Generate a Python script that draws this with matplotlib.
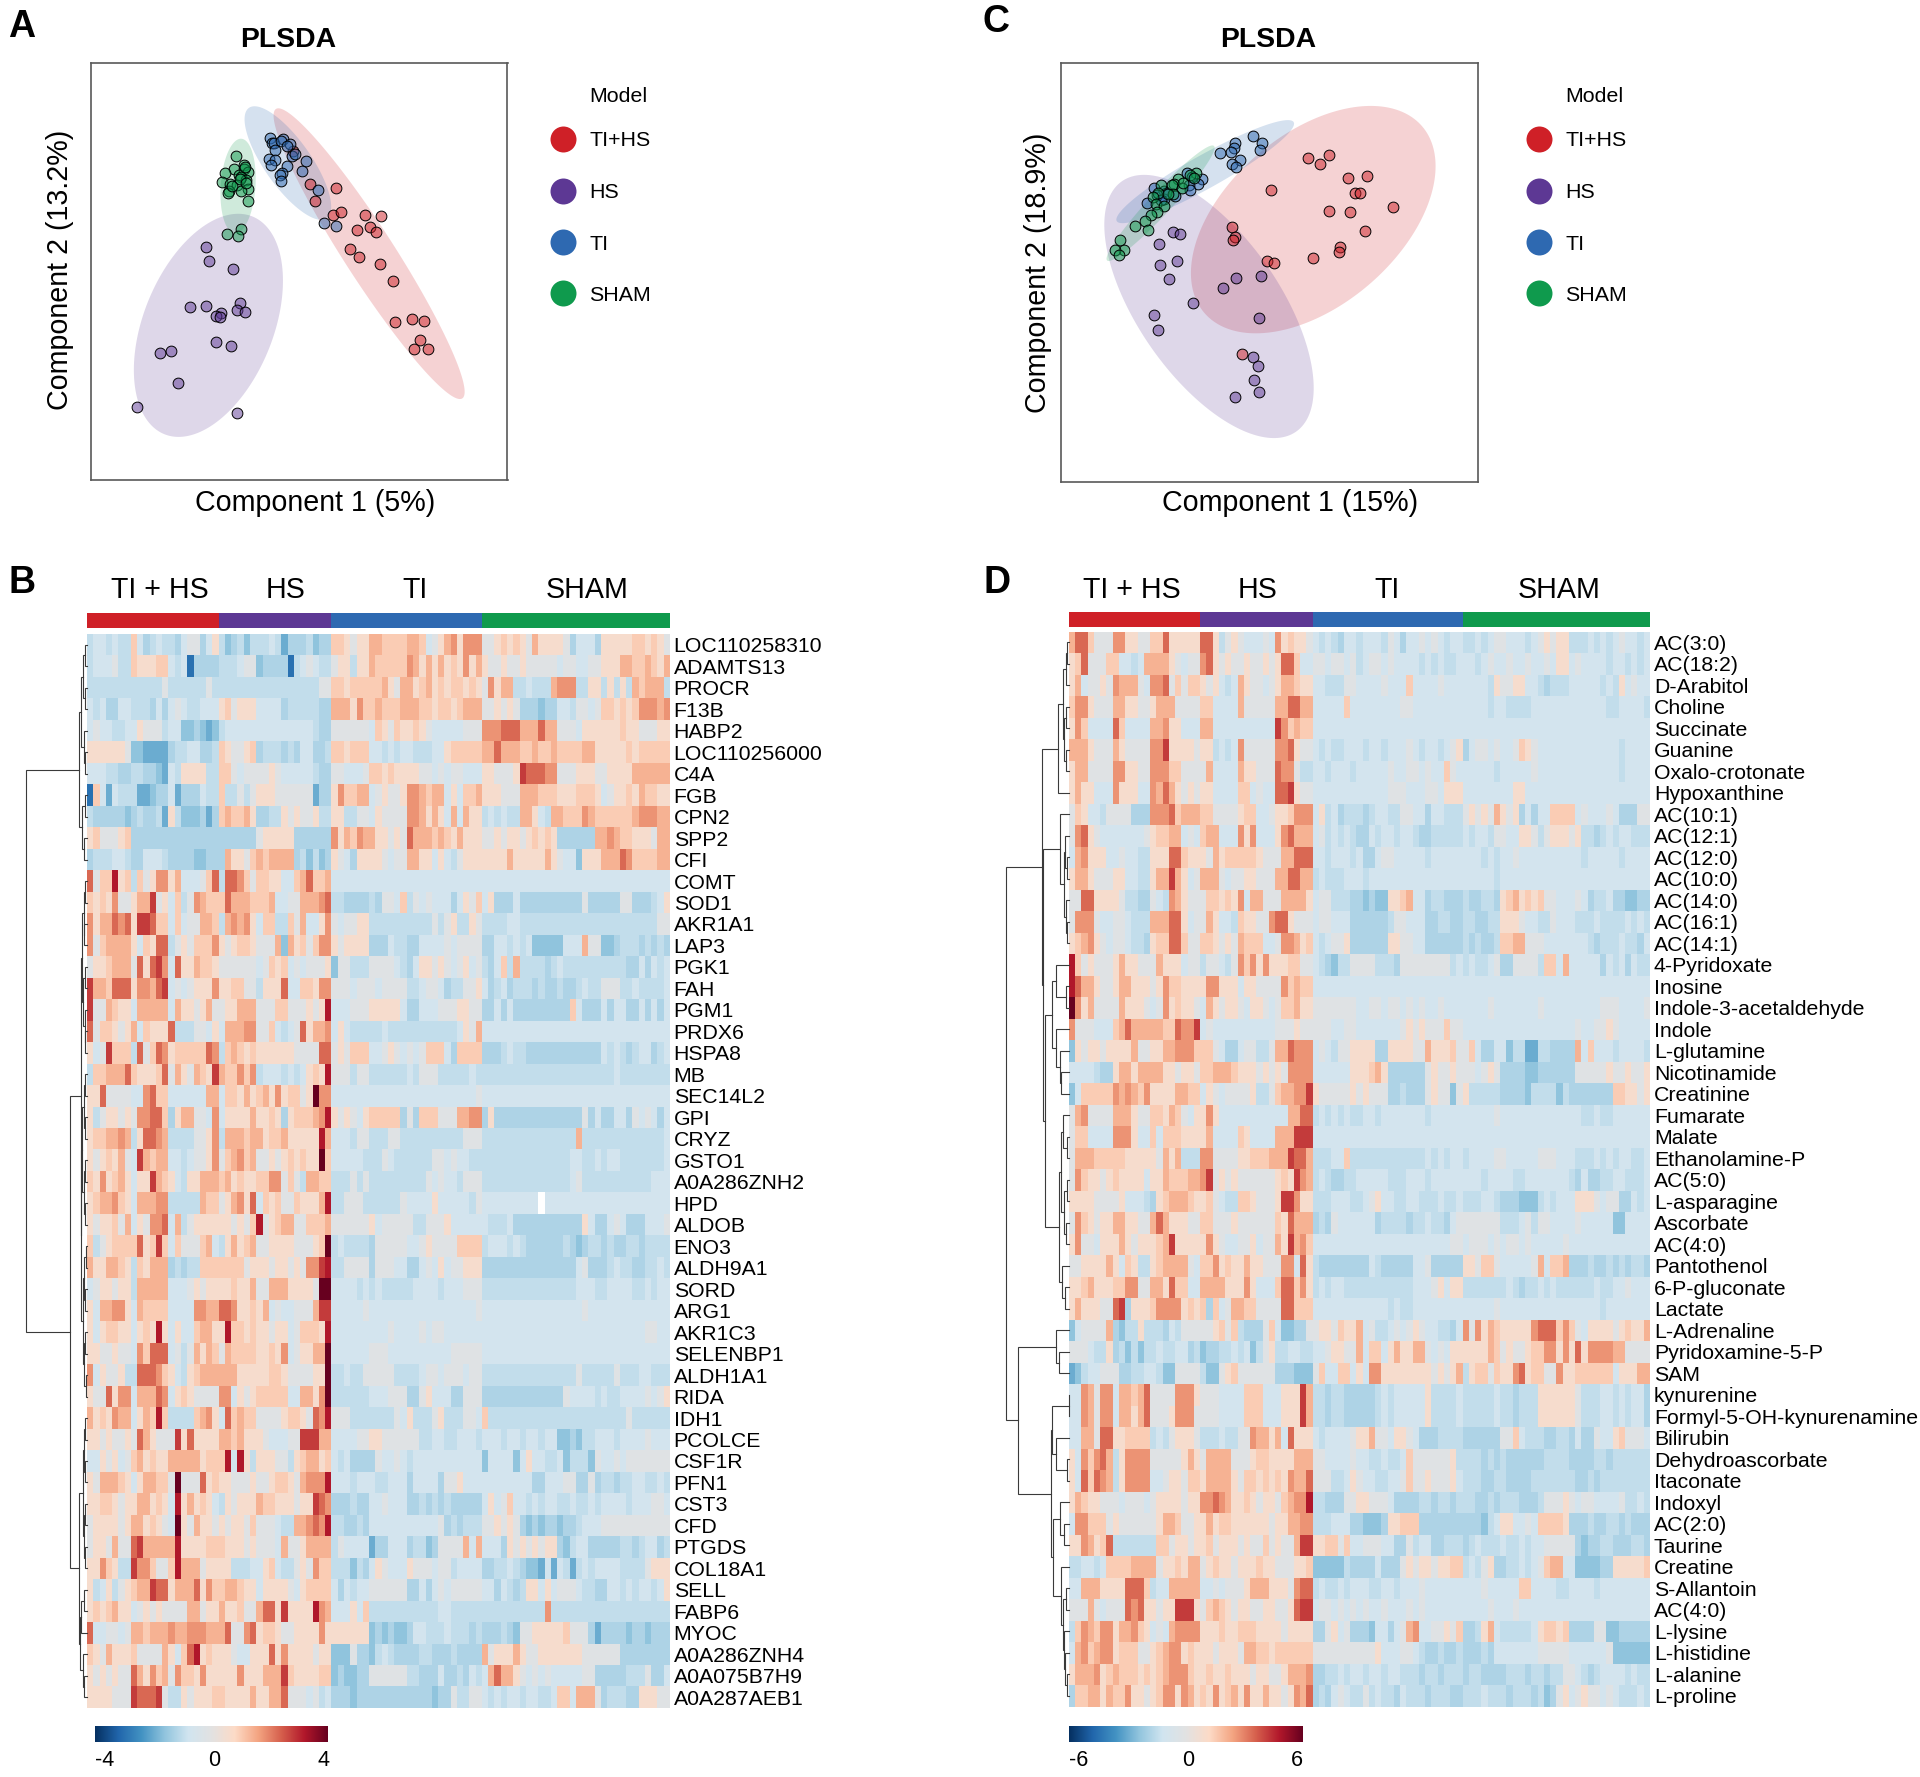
import matplotlib

matplotlib.use("Agg")
import matplotlib.pyplot as plt
import numpy as np
from matplotlib.colors import LinearSegmentedColormap, ListedColormap, to_rgba

W, H = 1920, 1777
plt.rcParams["font.family"] = ["Liberation Sans", "DejaVu Sans"]

GROUP_NAMES = ["TI+HS", "HS", "TI", "SHAM"]
GROUP_TITLES = ["TI + HS", "HS", "TI", "SHAM"]
GROUP_COLORS = ["#cf2027", "#5d3894", "#2e69b1", "#0f9a4d"]
GROUP_SIZES = [21, 18, 24, 30]

# PLS-DA scores (arbitrary score units, no ticks)
A_XLIM, A_YLIM = (204, 1137), (1418, 186)
C_XLIM, C_YLIM = (181, 1115), (1426, 186)

a_tihs = [(656, 445), (695, 543), (752, 556), (706, 593), (746, 637), (763, 628), (818, 636), (853, 638), (800, 681), (828, 670), (843, 685), (784, 736), (804, 761), (852, 782), (881, 830), (886, 951), (922, 942), (949, 950), (942, 1006), (927, 1032), (958, 1032)]
a_hs = [(461, 730), (469, 772), (521, 794), (425, 909), (461, 906), (538, 895), (531, 916), (550, 924), (495, 926), (483, 933), (492, 936), (485, 1010), (517, 1022), (383, 1037), (358, 1044), (398, 1133), (306, 1205), (532, 1221)]
a_ti = [(606, 407), (609, 422), (615, 422), (634, 411), (630, 416), (649, 427), (642, 432), (617, 444), (654, 462), (661, 454), (686, 476), (603, 470), (617, 474), (607, 487), (642, 491), (676, 506), (632, 512), (628, 518), (630, 534), (713, 563), (726, 658), (752, 668)]
a_sham = [(528, 461), (547, 489), (525, 499), (546, 500), (505, 510), (556, 507), (535, 516), (540, 522), (497, 537), (551, 533), (516, 545), (530, 548), (555, 558), (513, 565), (511, 570), (541, 566), (556, 594), (539, 677), (508, 691), (534, 698), (548, 495), (520, 550), (538, 528), (552, 540)]

c_tihs = [(735, 466), (762, 484), (781, 457), (824, 527), (866, 521), (652, 561), (840, 571), (850, 570), (924, 613), (781, 625), (828, 628), (862, 683), (565, 670), (571, 700), (567, 710), (807, 731), (804, 745), (746, 763), (642, 771), (658, 779), (586, 1047)]
c_hs = [(432, 685), (448, 693), (400, 721), (403, 784), (440, 772), (423, 824), (573, 822), (628, 816), (543, 852), (477, 895), (389, 932), (624, 941), (399, 976), (612, 1055), (622, 1083), (614, 1125), (625, 1161), (571, 1174)]
c_ti = [(611, 403), (631, 423), (571, 424), (569, 438), (561, 449), (537, 451), (627, 442), (581, 473), (563, 484), (574, 493), (497, 530), (463, 512), (487, 543), (475, 524), (468, 547), (470, 562), (389, 555), (437, 580), (412, 565), (411, 588), (416, 570), (397, 578), (374, 601), (405, 590)]
c_sham = [(484, 511), (470, 516), (478, 527), (442, 528), (435, 545), (430, 546), (451, 555), (406, 547), (432, 575), (398, 572), (386, 582), (394, 603), (411, 608), (395, 627), (383, 636), (369, 653), (347, 669), (375, 681), (313, 710), (322, 738), (303, 740), (310, 755), (420, 575), (455, 540)]

# confidence ellipses: centre x, half width, centre y, half height, correlation
a_ellipses = [(827, 214, 750, 430, 0.95), (467, 167, 962, 330, -0.40), (645, 97, 482, 168, 0.77), (533.5, 39.5, 550, 140, -0.16)]
c_ellipses = [(746, 274, 649.5, 336.5, -0.47), (512.5, 234.5, 906.5, 389.5, 0.62), (504, 199, 507.5, 152.5, -0.93), (404, 121, 601, 171, -0.96)]

labels_b = ["LOC110258310", "ADAMTS13", "PROCR", "F13B", "HABP2", "LOC110256000", "C4A", "FGB", "CPN2", "SPP2", "CFI", "COMT", "SOD1", "AKR1A1", "LAP3", "PGK1", "FAH", "PGM1", "PRDX6", "HSPA8", "MB", "SEC14L2", "GPI", "CRYZ", "GSTO1", "A0A286ZNH2", "HPD", "ALDOB", "ENO3", "ALDH9A1", "SORD", "ARG1", "AKR1C3", "SELENBP1", "ALDH1A1", "RIDA", "IDH1", "PCOLCE", "CSF1R", "PFN1", "CST3", "CFD", "PTGDS", "COL18A1", "SELL", "FABP6", "MYOC", "A0A286ZNH4", "A0A075B7H9", "A0A287AEB1"]
labels_d = ["AC(3:0)", "AC(18:2)", "D-Arabitol", "Choline", "Succinate", "Guanine", "Oxalo-crotonate", "Hypoxanthine", "AC(10:1)", "AC(12:1)", "AC(12:0)", "AC(10:0)", "AC(14:0)", "AC(16:1)", "AC(14:1)", "4-Pyridoxate", "Inosine", "Indole-3-acetaldehyde", "Indole", "L-glutamine", "Nicotinamide", "Creatinine", "Fumarate", "Malate", "Ethanolamine-P", "AC(5:0)", "L-asparagine", "Ascorbate", "AC(4:0)", "Pantothenol", "6-P-gluconate", "Lactate", "L-Adrenaline", "Pyridoxamine-5-P", "SAM", "kynurenine", "Formyl-5-OH-kynurenamine", "Bilirubin", "Dehydroascorbate", "Itaconate", "Indoxyl", "AC(2:0)", "Taurine", "Creatine", "S-Allantoin", "AC(4:0)", "L-lysine", "L-histidine", "L-alanine", "L-proline"]

# z-scores estimated cell by cell, one character per cell, groups split by |
CODES = {"z": -3.0, "a": -2.0, "b": -1.6, "c": -1.25, "d": -1.0, "e": -0.7, "0": -0.15, "1": 0.6, "2": 1.0, "3": 1.4, "4": 1.8, "5": 2.3, "6": 2.8, "7": 3.2, "8": 4.0, "x": np.nan}

heat_b = [
    "deededd2ecdeddce00ce1|dbcdbdddedacccdbcc|221011332222332e01341444|001212103111 10ceeec1111122 1210",
    "deee0dd211122edezcccc|ddde00bcccczde0eddd|01 1d11322222 4313 1 3 1 2 1 4 1 3|1001001000 00e00ee00111332232 13",
    "dddddddddddd0dddddd0d|dddddddddddddddd00|221222223103312312122121|0413 3dded dd3444dd11d1d1d32333d",
    "edecceedddcece0eddeee|120111eeeecdddddcc|333142232223332212212333|0010 10cccbcceed00e02212124 44 34",
    "e0eeddee1000deebbcbab|deeeeeeeeeeeeeedcc|000000e2102112 10eeeee000|4445553335 33000e1111112110 0011",
    "1111110bbaaaacddeeccd|210012cdddcdceeccd|221222eededeedddee122222|335333223223222233 1111 12122222",
    "eeeddccddccbaed1111dd|220e00001 0eeeeedcc|00eee0221211110 0e0e00ee|110001655544000111001111333333",
    "z2eaedddaabcceaccc edd|2dd0d01110000 00acc|142233e010014432 33e1e223|111000333222111222 1e0112132211",
    "dcccccbcdccda1dbbbcac|232231ccdd101001dd|11dd00e100004431 31e3e311|ded edd331ed332224322222234 4433",
    "120001 2ccccccccccccccc|cccccc011111cccccc|4132433 11010533323 2 1 3 1|0010110121 21cccccc3343221 1103",
    "cdddeedccee edcccc bbcc|c31102323333cdbdbc|10ec11110e003311e1ed0111|111131111131 0eeb111333542222 33",
    "502271 2d20144 13eee025|d55420 22 11ee2352 23|eeeeeeeeeeeeeeeeeeeeeeee|eeeeeeeeeeeeeeeeeeeeeeeeeeeeee",
    "212140013 3601e2d04322|253332223ee003334 5|ddcccc dc00e2d0e0eeece102|e1ccce cccccccccc 0ccccc00cccde1",
    "413354 5166522e2e00332|d34341e22dd203ee14|0e001 1dddddddddd0d01dd1 00 0|ddddeedddddddddddddddddddddd00",
    "402333 31e2155 d010222 4|101221000 3b312 0244|101111ccce ddcceeee0e0000|cceedede bbbbbeee300bbcdddcdcdcd",
    "011233 305 1564 e511322 15|000000e0212e0e0001|b00ddd0000edce11010 e01e0e|dce2d3dddd cdeddddddddddccece dec",
    "633255 5144 3 56e0e0111 4|11 220 0d1115ee22144|000e000e0000dde00ecdd001|ecdecdddcdccdccdedd000dde dddde",
    "60032 11e33333 e31101 305|0113 33000 22 000 1017|eee000 11111ecceee00011000|ccececcccccccc2 eccce ceecc ecece c",
    "502 2101 3e2111 5ddd00 e14|e333 440 02ed e051 334|e1edddddeddddddddddde103|eeeeeeeeeeeeeeeeeeeeeeeeeeeeee",
    "1e062 22d5025412222254|d23212111111000055|010222ee010e0e0222 ec2222|cccdedd cccccccccccc eded cdeecde",
    "d2233 352 11125 0310 3216|3224 24deeedede1217 6|000d00dddddde d000ddddde d|dddddddddddddddddddddeddddddddd",
    "11 5 0000ee45 22eeeeee33|e22131 2314122 01844|eeeeeeeeeeeeeeeeeeeeeee0|eeeeeeeeeeeeeeeeeeeeeeeeeeeeee",
    "1d0110 10 44 552c1330 0e4|e11113112 1c1222347|10 10e122222c0c2220003 34|c1cccccccccccccc0cecceec0e0ece",
    "12233 43d155 43ddd d0014|d333233122 3111117 3|eeed00ddd00ddddddddd d 000|ddddddddddddddd3ddddddddddddde",
    "1012130e6323 3eede00 14|02342300101212118 2|eeeeeddd0edddddd00e0ee ddd|ddddddddddddddeedde deeddddddde",
    "2141231 e116 321ed11333|2312 1122 440 2 0 d33 2 2 7|ddd0d0ddddddddd0e0ee d000|dddddddddddddd e0ddddddddddd e",
    "1233421 e33344ddddd322|0134 15e21200211137|dd000dddddd0eeee1eeeeed0|eeeeeeeeexeeeeeeeeeeeeeeeeeeee",
    "101120 3e1044 5e3d01111|110102 7 0 1 2 3 3 0 0 2 2 2 3 6|0000001e00000dd00 01eeeee0|eddde ccccccccccc1ecce0eccceee0e",
    "2d0122 225 126 2e2000 23e|d13123001111000128|dedddd c00000ee01000022 22|deeeded cccccc dcbcddcdcc ddcd",
    "3113 321d21333cdcdd222|222201 11 011 01044 67|dd0000c000ee cce0e1e00111|ccccccccccccccc e0ccc deddcc ddedd",
    "e011 011d33333eee01 011|112113003 3311110 88|eeeed ede d d d d de eeede ee00|ddddddddddddddd eeedd eeee dd ede",
    "1e3344 1e322 22eeee 4433|5541 1 213 e0ee000 366|eeeee0eeeeeeeeeeeeeeeee0|eeeeeeeeeeeeeeee0eeeeeeeeeeeee",
    "1e12 21 1e121 71e1ee2331|172 212110 1 1 e 0 2 2 2 1 7|eeeeeeeee0eeee0e00eeeeee|eeeeeeeeeeeeeeeeeeeeeeeeee00ee",
    "110010 0e4255 5e0d031 32|032222 11 21 4e0 11338|eeeeee000eeeeeeeee e0000 0|eeeeeeeeeeeeeeeeeeeeeeeeeeeeee",
    "4e1001dd555 421ed123333|333111112 2 1 0 0 0 0 1 1 8|dde dd00000dddde00e000e00|ddddddddddddddd0ddddd0dddeeddd",
    "1005 144e33354e1210000|44e10122222ee331 48|dddddde ee000cc01eeecc0000|ccccccccccccc0eeeededdeeee0e01e1",
    "31214 33e13272dddd2341|e523 22 0000122105 47|000ddddddd0e1ddd01ddd00e1|2dddddddddddddddddddddd0dddddd",
    "1101001 05 3100 061511 11|33231110eee0 0666 33|eeee001100 0000dde edd ee ed|eeedeedeedee bbcbddeeed eeee0eee",
    "ee1 01e 0 23121 1 333331 22|2 7 e 7 1 d 1 1 1 0 0 d 1 2 3 3 1 2|edecccc0ee0ede eeeeeeeeeec|beeeeb e1eedd e bddd b0ee0e0000000",
    "103332 1e1332 2 08 000512|110001001 221 034447|eeedee edde eece eeec001eee|eeeeeeeecceee00cc0cddcddeedded",
    "11221 0113 31 21 e7 13121e|d10111 3221 1 1 0 1 1 6 5 4|cccdcc ee0eeecc dcdcdccccc|e1e02eededeeddeddedeeeedeee00ee",
    "011110 133 12 1 0e81 031 10|1011 020 00edd 33 45 47|ddccdce eeeeeeeeee0cdcddd d|001 010cbcbccbcc deee0000000000",
    "0110 3005 6333337 1 1 1 1 22|2111010 00e300133 33|d0eeeeacceeecddbc00003e3|eeec1010 1011cbdeecccccddcdeecd",
    "114 21dd64 4 200 2 7 3 3 3 0 1 1|11dddee12edd0 1 0 4 2 2|dddbdce10eee100 0e00deeee|ccddedcbbaeaedadedee eedddd0111",
    "1de1d012 3365 513 3 3 5 1 4 2|2332 11e1 1 1 1 0 e 1 2 2 2 2|eced ee000000cce ce0e00000|eeced c d1 1e1e000edd cceeded ee d e 1",
    "12 12 3 11e 0 1 0 1 0 0 0 0 3 3 0 1 1|3112 0 0 3 5 5 1 6 1 1 1 1 7 4 3|eee1e2dddddddddddeed dddd|dddddddddd4ddddddddddddddddddd",
    "5ee00e033 2333 4 3 3 4 4 4 3 3|35004 51 2 2 1 0 0 1 1 1 1 4 1|111111bcbcbbceeddded ddcd|cccdcb00 11 1 1 1 2 0 0 0 cac c c c b c c b c c c",
    "2103111 200003 1e2 571 21|110ee11151 4 1 1 1 1 0 1 1|bbb0ccbdedcccc ddcccdcccc|30111310 0111111 1000000cccccccc",
    "1010100 5 3142 3 0 4 2 2 1 4 1 1|111 41113336 2 1 1 1 1 2 2|bcbbcc000000ddccce ccdced|e35 33 10e0e0eeeee00ccccc ddd0cce",
    "1111000 65556 0dd1011 1 2|2111 1 3 1 1 3 3 5 0 0 0 e 0 d e|cccbcccccccccccc bcc0dd00|ededeedeedde22e3330cddd cc1110 00",
]

heat_d = [
    "3552000441100 22511111|551d010eee0e412110|ededceedeeed0ec ee0e0edeee|ddede00eeede010 11ddde ded e0eede",
    "1250 0022eede3333 10e0|45101001001015 52ee|00e00e0de00e0eeeedededd e|eede0ee0ee0ee0e1 1e0eeeedeedede",
    "13e001043 330e4450202|101ede3100e0133211|eeddd00eeee0eee2eeee0eee|eeeed1001 1eedcddd eeeeeded1e0ee",
    "244100033 11001333000 0|22eeee300000335533|eeeee2eeeeeeee00eeeeeeee|eeeedeedddd eeeeeeeeeeeeddeeeede",
    "142eeee52eeee334 11eee|33eeeeeeeeee642 322|eeeeeeeeeeeeeeeeeeeeeeee|eeeeeeeeeeeeeeeeeeeeeeeeeeeeee",
    "33310003100004461 1110|11dede400000445100|ededdeeedeedeee0edeed e010|ce00e0ee02 10eeeeeeeeeeeeedeee",
    "13300004 41100444220 00|03eeee311000544 0dd|eedeeedeeeee0ee00e0ee20e|eeeeedeeeee0eeeeeeeeeeeeedeeee",
    "13 11eee411 1ee435 31010|11eeee22e0ee5 561 00|eeeeeeeeeeee000eee00e111|eeeeeeee11eeeeeeeeeeeeeeeeeeee",
    "021eed0000ccc44452333|220000122ee011 2444|e1dec ddd cdeedd00eecee ddd|01010 31 01cecee22 22e0eee0ecc c00",
    "0451 0eeeeeee01 2233e0e|233eee4 14eee1453 33|e0ded edcc ed eedeedccddd|edeed00ee1 10d01 110 1ddcdedeedd",
    "e3411 1ee0eedd1115 52 11|103122 22210003 3555|eedeeedecce00eeeeedeeeee|eeededee0eeeeeeeeeedeeeee deee",
    "13 3100011eedd13363 1e0|33 30e0011000335533|dedd deeedeeeeeeeeeeeeeee|eeeeedeeeeeeeeeeeeeeeeeeeeeeee",
    "00551 11 10ddcc 0ed4310 0|022121 4e33000 33331|e00dddccbcbb1123eecddccc|dccddc 1231212 00eee0 ecddeccbbcc",
    "044 40ee00eddd3335 51e0|031eed2110 04 551 00|e00eeeccccccd00eeeccddcc|ddccdd111 0eedd0eeedddeddddededcde",
    "12341 0e00edd c122552 00|2210 10 322 2ee0443 12|ede001cccccc1100eeccc ccc|dcdccd2233000eeeeeeedcdddeddce",
    "7201 00013 11000 3111e0|d00ed04 24141 1122 0|edcbdd0000dddc00000000de|dedde0cc0000d22e3eeeeecedeced",
    "75331 00133 1 110 1422111|144 111e110000423 22|eeeeeeeeeeeeeeeeeeeeeeee|eeeeeeeeeeeeeeeeeeeeeeeeeeeeee",
    "8413 00003 1110e0412110|e310 11 0e110e0 2231 1|0000000ee00e00e0e0ee0eee|eeee0eeeeeee0eeeeeeeee0 00eeee0",
    "4000eee 2353 33332 25 446|e0eeeeeeeeee000100|000ee00eeeeeee0101 000 200|eeeeeeeeeeeeeeeeee0ee001 0eeeee",
    "b1011011 1130011334 442|220ecce00dd033 5444|e0ed00111 1cc11110 03111 20|02ecceebddaaddcccc3e2eeedeeeed e",
    "eeeedcc13 3133331 10110|223332 11101 01 0 4444|eeeeee1112 31cccccc010010|00e010ccccbbcccccc000001001 001",
    "be22222 4343241111 3322|e10e0 00 01dd023 3446|10000010 1000ccdccc010 0b0|1dddddccccbddddbdccccccc221101",
    "034 00003 331 00 221320e 1|141eeeeeeeeeee3 355555|deded edd eedeeeeeeedeeeee|eeeee0eeeeeeeeeeeeedd eddeeeeee",
    "0 22eeee444 1ee2e22 2 111|13eeee21eeee333666|eeeeeeeeeeeeeeeeeeeeeeee|eeeeeeeeeeeeeeeeeeeeeeeeeeeeee",
    "033 32222 2111 1103 13ddd|44 0000 1122 2 33 36 553|ddde e2ddddddddddddededeee|deeee00eeeee000eeedddededeedded",
    "0421101 2111 1e11 32223 3|46010100000012 1643|dedccddeeeeedddeeedeeeee|eeedeeeeddeeeeeeedceccddeeddde",
    "1111000 01eeedc1233 321|1 20edd2210 001 66 41 1|dddeeedde01eeddeedddeddedd|dddeedcccbbbdedeee1110e00ccede",
    "0421 01 1 33110 035 311 100|220001000000215333|cdc0eeeeeecddddcdde ddce0|000000ddde0d00eeee0eeeeebbeeee",
    "140 0e11 1310 1 1 1 23 61 1 1 1|14 10ee001e00 31 6342|eeeeeeeeeeeeeeeeeeeeee00|e000e0e00e0eeeee0eeeeeeeeeeeee",
    "001111 3 1 e 2 1 d d 1 2 3 3 3 3 0 e|224121 1311 000 44e51|dccccccccedccccc ee0ccccc|1102 20eeeee0 3e2 23cccdccdcdcddc",
    "11231 11 2244 003 3 1 5 2 2 e e|333311 1 4 1 e e e 2 5 5 2 4 1|dedeeddddd ddddddeee01e1|ddddddde dcdd ededdddddedd ee0eee",
    "1311 100 56c11124444 121|2c2e0332 20000 55222|eeeeeeeeeeeededdeeeeeeee|eeeee0eeeeeeeeeeeeeeeedeeeeeee",
    "be000 03cbdd1dddce d000|0012 02dccc02ebbcc0|011021 13e0dde0e010eedd ce|40413 21 1111 4555 24 20e1 1110 1 2 1 1 3",
    "000edd1cdbdbdde ddeecd|bccdde de bd01ddeedd|ee011 003e22e1311330e0e11|1111 32010012 24414 1 5 1 4 4 4 4 3 3 0 0 0 0 1 1",
    "abdee00 0ccddeedbb00000|dbb012000000cccbbb|02ee22e1e44 1111111101 013|d12202 11 4 5 1 2 2 0 0 4 1 1 2 2 2 2 2 2 e 1 1 1 3 3",
    "ee4304 4e3323500 004441|000eeee222eee1 1163|ddcddccccc dedeeeee1dddde|dddddedd cddd111111 0ddde ededeec",
    "ee4304 4e33135000 144 40|000eeee222eee1 1163|ddcddccc ccdedeeeee1dddde|dddddedd cddd111111 0ddde edede ec",
    "ee3305 511222 2de d0111 0|dddedd0043 3 1 3 e 5 1 1 1|edeeee0113 00e110ecccdddd|cccccc002eddd ccddc ecc0ee120 00e",
    "1e42453d144 4400000 131|03333000122111 1333|00eeee0ee dd edde20000001d|dddcdcdccccccdddd cccc ddc dddddd",
    "1e525 43d1444 4ee01 10 22|13333 102 212 121 4335|000dde10eeddee02001000 1e|dddccddccccdddddddccdcdddddddd",
    "1321 1000e000e0111 101|445 4311 2 1 0 1 1 0 2 3 4 4 7|ddccc0011 000ecccc ddcddcd|ddccdcdddccc d000 10e00eeee0dde d",
    "e44 222 0100000 013 32001|131221 111110113 344|dddeeeccbbbc112 22ccccccc|cccbde11ee0e2222 1cccdccddcdccc",
    "1143 125ddddddd 22011 010|1201 1101 002 01 0036 6|11220 2ee000eecc0deecc ddd|cdedddeddede e0000 0cbccddccc ddc",
    "ddeede22 22333 3 0 1 1 2 1 3 3|012110111211000112|bbbbbdccccecc c010110 1122|ded01ccddede023 3eebbbbcc11111 2",
    "ee33311 115552 dee33 33 3|ee0e000133 31 11045 5|dedded eeedd eed eee0eeeeee|eee0eeeee22eeeeddeeeedeeeeeeee",
    "00030e00 05451 1 01 16661|023210110011 001 566|e00e0e0e0ee0eee0e0eeeeee|eeee0eee0eeeeeeeeeeeeeeeeeeeee",
    "d2432 44133 421e0e34 444|111211 222 111 1 0 1 1 1 1|cc01e0cccbeec e0 34ee 0 01 02|ccd13eddddde1221 2cccc00bbccccc",
    "e3423 4 41 22 2 00 1 2 3 4 4 1 2 1|110111033221222222|00000000001eee00edccdccd|cccdceeeeeee 00000eeeeee0bbbbbb",
    "133341 232 22121 23444 21|121 121110110 0133 34|ccddedeedeedeeddd cddcddd|cddccccdddcddcdd00edcdeeeededd",
    "c22331 322411 01244 1431|214123141131 1014 35|cdce0edd0dedd ced ddcdddc|dddeddd cdddcdbc01e01 00e0eddded",
]


def decode(rows, scale=1.0):
    out = []
    for row in rows:
        cells = []
        for part, size in zip(row.split("|"), GROUP_SIZES):
            part = part.replace(" ", "")
            part = part.ljust(size, part[-1])[:size]
            cells.extend(CODES[ch] for ch in part)
        out.append(cells)
    return np.array(out) * scale


# dendrograms: (height in px, child, child), a bare int is a heatmap row
m1 = (5, (3, (2, 11, 12), (2.5, 13, 14)), (3.5, (2, 15, 16), (2, 17, (1.5, 18, 19))))
m2 = (4.5, (3, (1.8, 20, 21), (2.2, 22, 23)), (3, (1.6, 24, 25), (2, 26, 27)))
m3 = (4, (2.5, (1.2, 28, 29), (1.5, 30, 31)), (2.5, (1.5, 32, 33), (1.2, 34, 35)))
l1 = (4, (3, (1.5, 36, 37), (1.5, 38, 39)), (3, (1.5, 40, 41), (2, 42, 43)))
l2 = (6, (3, 44, 45), 46)
l3 = (4, 47, (2.5, 48, 49))
b_top = (7.7, (6, (3.5, (1.5, 0, 1), (2, 2, 3)), (3, 4, (2, 5, 6))), (5, (2, 7, 8), (3, 9, 10)))
tree_b = (61, b_top, (17, (6, m1, (5.5, m2, m3)), (8, l1, (7, l2, l3))))

d_a = (11, (6, (3, (2, 0, 1), 2), (5, (3, 3, 4), (3, 5, 6))), 7)
d_b = (9, 8, (5, (4, 9, (2, 10, 11)), (3.5, 12, (2, 13, 14))))
d_mid = (24, (17, (13, 15, (3, 16, 17)), (13, 18, (9, 19, (8, 20, 21)))), (10, (8, (6, 22, (2, 23, 24)), (5, (2, 25, 26), (3, 27, 28))), (7, 29, (4, 30, 31))))
d_low = (18, (17, (0.5, 35, 36), (13, 37, (2, 38, 39))), (16, (9, 40, (5, 41, 42)), (8, 43, (6, (3, 44, 45), (5, 46, (4, 47, (2, 48, 49)))))))
tree_d = (63, (27.7, d_a, (26, d_b, d_mid)), (51, (13, 32, (10, 33, 34)), d_low))

cmap = LinearSegmentedColormap.from_list(
    "rdbu_grey",
    ["#053061", "#2166ac", "#4393c3", "#92c5de", "#d1e5f0", "#e2e2e2", "#fddbc7", "#f4a582", "#d6604d", "#b2182b", "#67001f"],
    N=256,
)
cmap.set_bad("white")

fig = plt.figure(figsize=(W / 100, H / 100), dpi=100, facecolor="white")


def px_axes(left, top, right, bottom):
    return fig.add_axes([left / W, 1 - bottom / H, (right - left) / W, (bottom - top) / H])


def label(x, y, text, **kw):
    # text sits ~2px high with va=center
    kw.setdefault("va", "center")
    page.text(x, y + 2, text, **kw)


def scores_panel(box, xlim, ylim, series, ellipses):
    ax = px_axes(*box)
    ax.set(xlim=xlim, ylim=ylim, xticks=[], yticks=[])
    for side in ax.spines.values():
        side.set_color("#595959")
        side.set_linewidth(1.2)
    t = np.linspace(0, 2 * np.pi, 200)
    for (cx, dx, cy, dy, r), color in zip(ellipses, GROUP_COLORS):
        ax.fill(cx + dx * np.cos(t), cy + dy * np.cos(t + np.arccos(r)), color=color, alpha=0.2, lw=0)
    for pts, color in zip(series, GROUP_COLORS):
        xy = np.array(pts)
        ax.scatter(xy[:, 0], xy[:, 1], s=60, facecolor=to_rgba(color, 0.5), edgecolor="black", linewidth=0.7, zorder=3)


def heatmap_panel(box, bar_top, bar_bottom, data, limit, labels):
    ax = px_axes(*box)
    ax.imshow(data, cmap=cmap, vmin=-limit, vmax=limit, aspect="auto", interpolation="nearest")
    ax.axis("off")
    bar = px_axes(box[0], bar_top, box[2], bar_bottom)
    bar.imshow(np.repeat(np.arange(4), GROUP_SIZES)[None, :], cmap=ListedColormap(GROUP_COLORS), aspect="auto", interpolation="nearest")
    bar.axis("off")
    row_h = (box[3] - box[1]) / len(labels)
    for i, name in enumerate(labels):
        label(box[2] + 4, box[1] + (i + 0.5) * row_h, name, fontsize=15.3, ha="left")


def draw_tree(node, left, top, row_h):
    if isinstance(node, int):
        return left, top + (node + 0.5) * row_h
    x1, y1 = draw_tree(node[1], left, top, row_h)
    x2, y2 = draw_tree(node[2], left, top, row_h)
    x = left - node[0]
    page.plot([x1, x, x, x2], [y1, y1, y2, y2], color="#3a3a3a", lw=0.8, solid_joinstyle="miter")
    return x, (y1 + y2) / 2


def colorbar(left, right, top, bottom, ticks, xpos):
    ax = px_axes(left, top, right, bottom)
    ax.imshow(np.linspace(-1, 1, 256)[None, :], cmap=cmap, aspect="auto", vmin=-1, vmax=1)
    ax.axis("off")
    for tick, x in zip(ticks, xpos):
        label(x, 1759, tick, fontsize=15.5, ha="center")


page = fig.add_axes([0, 0, 1, 1], zorder=5)
page.set(xlim=(0, W), ylim=(H, 0))
page.axis("off")

scores_panel((91, 63, 507.5, 479.5), A_XLIM, A_YLIM, [a_tihs, a_hs, a_ti, a_sham], a_ellipses)
scores_panel((1061, 63, 1478, 482), C_XLIM, C_YLIM, [c_tihs, c_hs, c_ti, c_sham], c_ellipses)

heatmap_panel((86.7, 634, 669.6, 1708), 613.3, 628.3, decode(heat_b), 4, labels_b)
heatmap_panel((1069.3, 631.7, 1650, 1706.7), 611.7, 626.7, decode(heat_d, 1.5), 6, labels_d)

draw_tree(tree_b, 86.7, 634, 21.48)
draw_tree(tree_d, 1069.3, 631.7, 21.5)

colorbar(95, 327.4, 1725.7, 1741.7, ["-4", "0", "4"], [104.5, 214, 323])
colorbar(1068.7, 1302, 1725.7, 1741.7, ["-6", "0", "6"], [1079, 1188, 1297])

# panel letters, titles, axis names
for letter, x, y in [("A", 8.5, 25), ("B", 8.5, 581), ("C", 983, 20), ("D", 983, 581)]:
    label(x, y, letter, fontsize=27, fontweight="bold", ha="left")
for x in (288, 1268):
    label(x, 38, "PLSDA", fontsize=20.4, fontweight="bold", ha="center")
label(315, 501, "Component 1 (5%)", fontsize=20.6, ha="center")
label(1290, 501, "Component 1 (15%)", fontsize=20.6, ha="center")
page.text(60, 270, "Component 2 (13.2%)", fontsize=20.6, rotation=90, ha="center", va="center")
page.text(1038, 273, "Component 2 (18.9%)", fontsize=20.6, rotation=90, ha="center", va="center")

# legends
for circle_x, text_x in [(562.5, 589), (1538.5, 1565)]:
    label(text_x, 95, "Model", fontsize=15.4, ha="left")
    for name, color, y in zip(GROUP_NAMES, GROUP_COLORS, [138.6, 191, 242, 293.4]):
        page.scatter([circle_x], [y], s=350, color=color, linewidth=0)
        label(text_x, y, name, fontsize=15.4, ha="left")

# heatmap group headings
for title, x in zip(GROUP_TITLES, [160, 286, 415, 587]):
    label(x, 588, title, fontsize=20.6, ha="center")
for title, x in zip(GROUP_TITLES, [1132, 1258, 1387, 1559]):
    label(x, 588, title, fontsize=20.6, ha="center")

page.set(xlim=(0, W), ylim=(H, 0))
fig.savefig("out.png", dpi=100, facecolor="white")
